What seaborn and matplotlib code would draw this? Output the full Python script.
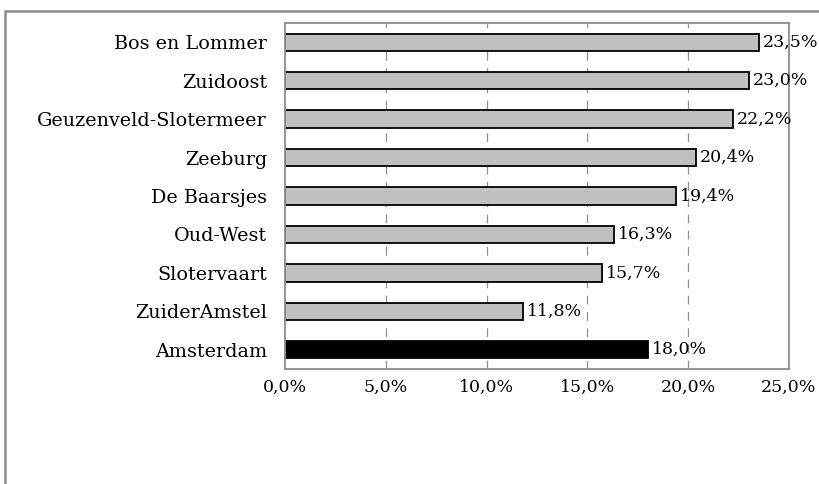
import matplotlib
matplotlib.use("Agg")
import matplotlib.pyplot as plt
import seaborn as sns
import pandas as pd
from matplotlib.patches import Rectangle

# data
wijken = ["Bos en Lommer", "Zuidoost", "Geuzenveld-Slotermeer", "Zeeburg",
          "De Baarsjes", "Oud-West", "Slotervaart", "ZuiderAmstel", "Amsterdam"]
percentages = [23.5, 23.0, 22.2, 20.4, 19.4, 16.3, 15.7, 11.8, 18.0]
kleuren = ["#c0c0c0"] * 8 + ["#000000"]
x_ticks = [0, 5, 10, 15, 20, 25]

df = pd.DataFrame({"wijk": wijken, "pct": percentages})

sns.set_style("white")
plt.rcParams["font.family"] = ["DejaVu Serif"]
plt.rcParams["text.color"] = "black"
plt.rcParams["xtick.color"] = "black"
plt.rcParams["ytick.color"] = "black"

fig = plt.figure(figsize=(8.19, 4.84), dpi=100)
ax = fig.add_axes([285 / 819, 1 - 369 / 484, (789 - 285) / 819, 346 / 484])

sns.barplot(data=df, y="wijk", x="pct", hue="wijk", palette=kleuren,
            legend=False, width=0.45, edgecolor="black", linewidth=1.3,
            orient="h", ax=ax)

ax.set_xlim(0, 25)
ax.set_ylim(8.5, -0.5)
ax.set_xticks(x_ticks)
ax.set_xticklabels([f"{t:.1f}%".replace(".", ",") for t in x_ticks], fontsize=12.5)
ax.tick_params(axis="y", labelsize=13.8, length=0, pad=13)
ax.tick_params(axis="x", length=0, pad=7)
ax.set_xlabel("")
ax.set_ylabel("")

for t in x_ticks[1:-1]:
    ax.axvline(t, color="#909090", linewidth=0.9, linestyle=(0, (7, 6)), zorder=0)

for s in ax.spines.values():
    s.set_visible(True)
    s.set_color("#8c8c8c")
    s.set_linewidth(1.3)

for i, v in enumerate(percentages):
    ax.text(v + 0.2, i, f"{v:.1f}%".replace(".", ","), va="center",
            ha="left", fontsize=12.5)

# outer frame, open on the right and bottom
fig.patches.append(Rectangle((4.5 / 819, -0.05), 1.2, 1 - 11.5 / 484 + 0.05,
                             transform=fig.transFigure, fill=False,
                             edgecolor="#8c8c8c", linewidth=1.8))

fig.savefig("out.png", dpi=100)
